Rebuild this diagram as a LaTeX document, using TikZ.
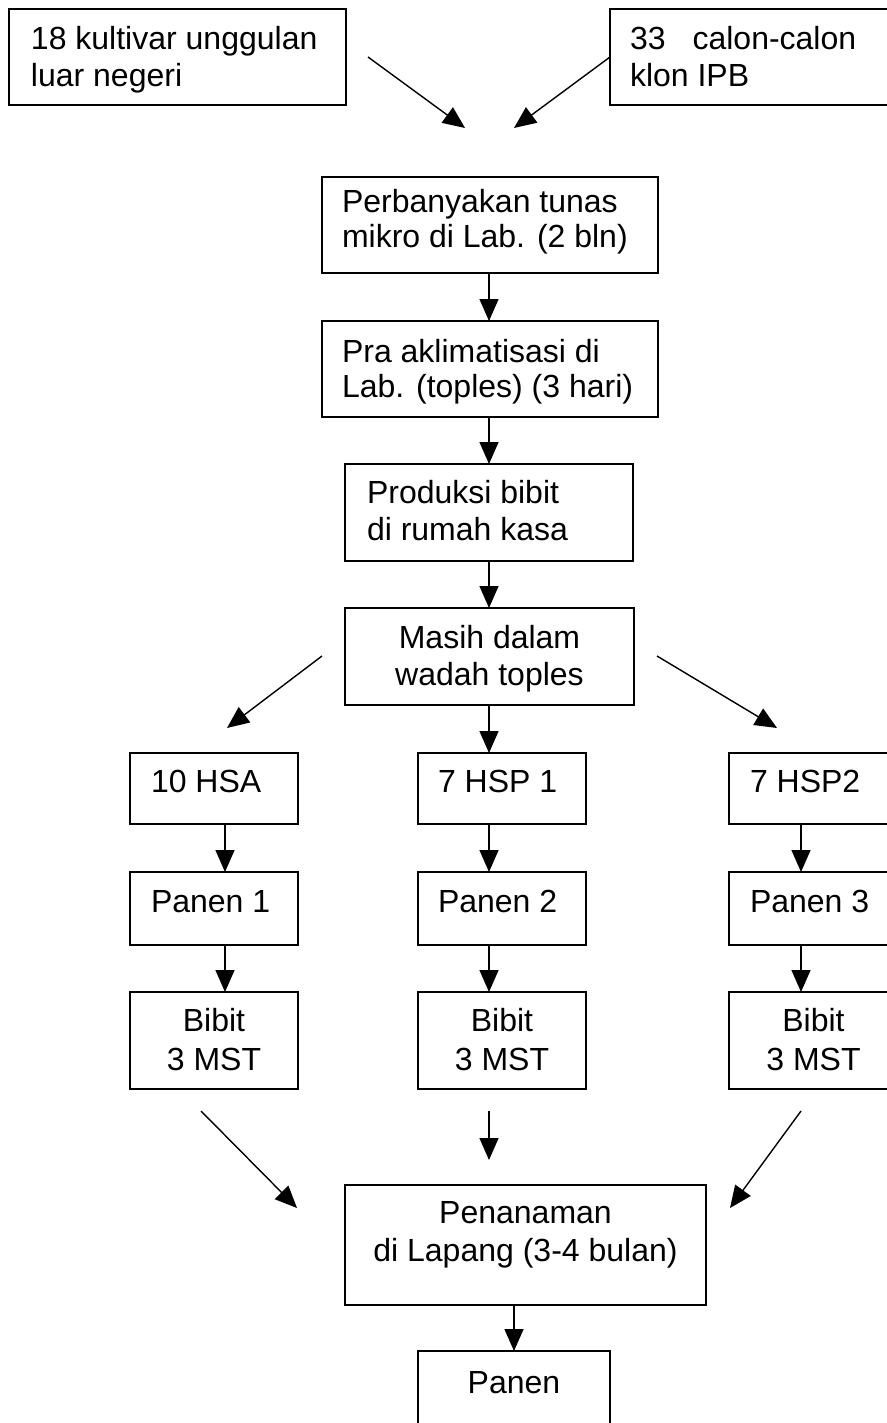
\documentclass[tikz,border=0pt]{standalone}
\usepackage{fontspec}
\setmainfont{Liberation Sans}
\usetikzlibrary{arrows.meta}
\tikzset{
  box/.style={draw, line width=1pt, inner sep=0pt, outer sep=0pt},
  txt/.style={inner sep=0pt, outer sep=0pt, font=\fontsize{16pt}{18.5pt}\selectfont},
  lt/.style={txt, anchor=base west},
  ct/.style={txt, anchor=base},
  arr/.style={-{Triangle[length=11pt,width=9.5pt]}, line width=0.7pt}
}
\begin{document}
\begin{tikzpicture}[x=0.5pt,y=-0.5pt]
\useasboundingbox (0,0) rectangle (887,1423);
\clip (0,0) rectangle (887,1423);
\fill[white] (0,0) rectangle (887,1423);
% boxes
\node[box, minimum width=168.5pt, minimum height=48pt] (b1) at (177.5,57) {};
\node[box, minimum width=160pt, minimum height=48pt] (b2) at (770,57) {};
\node[box, minimum width=168pt, minimum height=48pt] (b3) at (490,225) {};
\node[box, minimum width=168pt, minimum height=48pt] (b4) at (490,369) {};
\node[box, minimum width=144pt, minimum height=48.5pt] (b5) at (489,512.5) {};
\node[box, minimum width=144.5pt, minimum height=48.5pt] (b6) at (489.5,656.5) {};
\node[box, minimum width=84pt, minimum height=35.5pt] (b7) at (214,788.5) {};
\node[box, minimum width=84pt, minimum height=35.5pt] (b8) at (502,788.5) {};
\node[box, minimum width=95.5pt, minimum height=35.5pt] (b9) at (824.5,788.5) {};
\node[box, minimum width=84pt, minimum height=36.5pt] (b10) at (214,908.5) {};
\node[box, minimum width=84pt, minimum height=36.5pt] (b11) at (502,908.5) {};
\node[box, minimum width=95.5pt, minimum height=36.5pt] (b12) at (824.5,908.5) {};
\node[box, minimum width=84pt, minimum height=48.5pt] (b13) at (214,1040.5) {};
\node[box, minimum width=84pt, minimum height=48.5pt] (b14) at (502,1040.5) {};
\node[box, minimum width=95.5pt, minimum height=48.5pt] (b15) at (824.5,1040.5) {};
\node[box, minimum width=180.5pt, minimum height=60pt] (b16) at (525.5,1245) {};
\node[box, minimum width=96pt, minimum height=49.5pt] (b17) at (514,1400.5) {};
% texts
\node[lt] (t1a) at (31,50) {18 kultivar unggulan};
\node[lt] (t1b) at (31,87) {luar negeri};
\node[lt] (t2a) at (630,50) {33\hspace{13.5pt}calon-calon};
\node[lt] (t2b) at (630,87) {klon IPB};
\node[lt] (t3a) at (342,213) {Perbanyakan tunas};
\node[lt] (t3b) at (342,248) {mikro di Lab. (2 bln)};
\node[lt] (t4a) at (342,362) {Pra aklimatisasi di};
\node[lt] (t4b) at (342,397) {Lab. (toples) (3 hari)};
\node[lt] (t5a) at (367,503) {Produksi bibit};
\node[lt] (t5b) at (367,540) {di rumah kasa};
\node[ct] (t6a) at (489.5,648) {Masih dalam};
\node[ct] (t6b) at (489.5,685) {wadah toples};
\node[lt] (t7) at (151,792) {10 HSA};
\node[lt] (t8) at (438,792) {7 HSP 1};
\node[lt] (t9) at (750,792) {7 HSP2};
\node[lt] (t10) at (151,912) {Panen 1};
\node[lt] (t11) at (438,912) {Panen 2};
\node[lt] (t12) at (750,912) {Panen 3};
\node[ct] (t13a) at (214,1031) {Bibit};
\node[ct] (t13b) at (214,1070) {3 MST};
\node[ct] (t14a) at (502,1031) {Bibit};
\node[ct] (t14b) at (502,1070) {3 MST};
\node[ct] (t15a) at (813.5,1031) {Bibit};
\node[ct] (t15b) at (813.5,1070) {3 MST};
\node[ct] (t16a) at (525.5,1223) {Penanaman};
\node[ct] (t16b) at (525.5,1261) {di Lapang (3-4 bulan)};
\node[ct] (t17) at (514,1393) {Panen};
% free arrow ends
\coordinate (a1s) at (368,57);
\coordinate (a1e) at (465,128);
\coordinate (a2e) at (514,128);
\coordinate (a3s) at (322,656);
\coordinate (a3e) at (227,728);
\coordinate (a4s) at (657,656);
\coordinate (a4e) at (777,728);
\coordinate (a5s) at (201,1111);
\coordinate (a5e) at (297,1208);
\coordinate (a6s) at (489,1111);
\coordinate (a6e) at (489,1160);
\coordinate (a7s) at (801,1111);
\coordinate (a7e) at (730,1208);
\coordinate (colL) at (225,0);
\coordinate (colM) at (489,0);
\coordinate (colR) at (801,0);
% connectors
\draw[arr] (a1s) -- (a1e);
\draw[arr] (b2.west) -- (a2e);
\draw[arr] (b3.south -| colM) -- (b4.north -| colM);
\draw[arr] (b4.south -| colM) -- (b5.north -| colM);
\draw[arr] (b5.south -| colM) -- (b6.north -| colM);
\draw[arr] (a3s) -- (a3e);
\draw[arr] (a4s) -- (a4e);
\draw[arr] (b6.south -| colM) -- (b8.north -| colM);
\draw[arr] (b7.south -| colL) -- (b10.north -| colL);
\draw[arr] (b8.south -| colM) -- (b11.north -| colM);
\draw[arr] (b9.south -| colR) -- (b12.north -| colR);
\draw[arr] (b10.south -| colL) -- (b13.north -| colL);
\draw[arr] (b11.south -| colM) -- (b14.north -| colM);
\draw[arr] (b12.south -| colR) -- (b15.north -| colR);
\draw[arr] (a5s) -- (a5e);
\draw[arr] (a6s) -- (a6e);
\draw[arr] (a7s) -- (a7e);
\draw[arr] (b16.south -| b17.north) -- (b17.north);
\end{tikzpicture}
\end{document}
